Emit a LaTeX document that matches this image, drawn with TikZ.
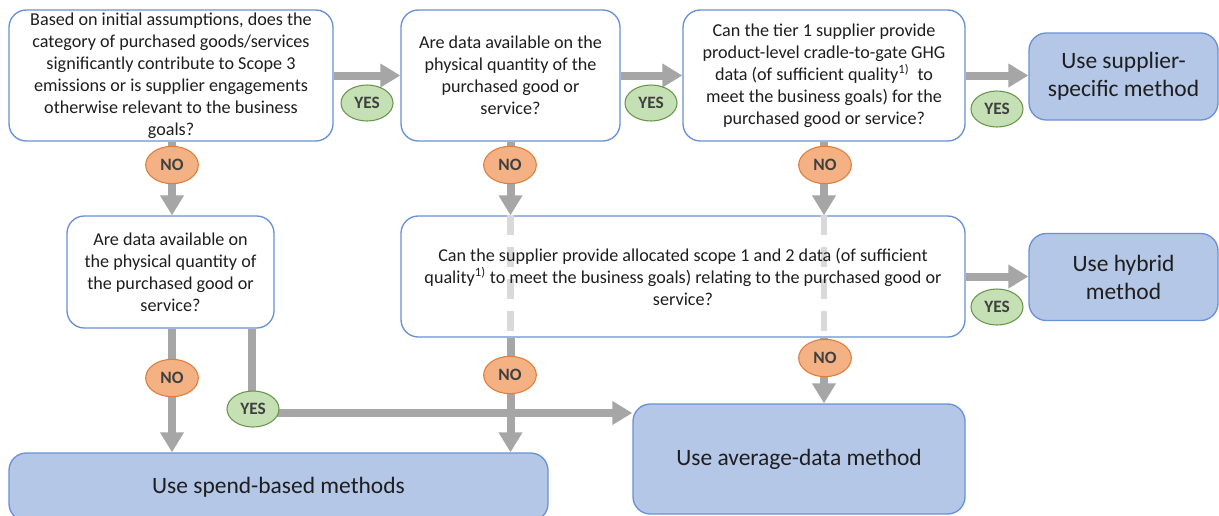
\documentclass[tikz,border=0pt]{standalone}
\usepackage{fontspec}
\setmainfont{Carlito}
\usetikzlibrary{arrows.meta,shapes.geometric,calc}
\definecolor{edgeblue}{RGB}{105,145,215}
\definecolor{resfill}{RGB}{180,199,231}
\definecolor{arrgray}{RGB}{166,166,166}
\definecolor{ghostgray}{RGB}{217,217,217}
\definecolor{nofill}{RGB}{244,177,131}
\definecolor{noedge}{RGB}{222,125,60}
\definecolor{yesfill}{RGB}{197,224,180}
\definecolor{yesedge}{RGB}{105,150,75}
\definecolor{lbltext}{RGB}{64,64,64}
\definecolor{bodytext}{RGB}{30,30,30}
\begin{document}
\begin{tikzpicture}[x=0.75pt,y=-0.75pt,
  question/.style={draw=edgeblue,line width=1pt,fill=white,rounded corners=13pt,
    align=center,inner sep=0pt,text=bodytext,font=\fontsize{13.6}{16.5}\selectfont},
  result/.style={draw=edgeblue,line width=1pt,fill=resfill,rounded corners=13pt,
    align=center,inner sep=0pt,text=bodytext,font=\fontsize{17.6}{21}\selectfont},
  flow/.style={draw=arrgray,line width=6pt,-{Triangle[length=15pt,width=17pt]}},
  ghost/.style={draw=ghostgray,line width=5pt,dash pattern=on 15pt off 9pt},
  yeslbl/.style={ellipse,draw=yesedge,fill=yesfill,line width=0.8pt,
    minimum width=39pt,minimum height=27pt,inner sep=0pt,text=lbltext,
    font=\fontsize{13}{15}\selectfont\bfseries},
  nolbl/.style={ellipse,draw=noedge,fill=nofill,line width=0.8pt,
    minimum width=39.5pt,minimum height=28pt,inner sep=0pt,text=lbltext,
    font=\fontsize{13}{15}\selectfont\bfseries}]
\useasboundingbox (0,0) rectangle (1219,515);
\clip (0,0) rectangle (1219,515);

% question boxes
\node[question,minimum width=243pt,minimum height=98.25pt] (q1) at (171,75.5)
  {Based on initial assumptions, does the\\category of purchased goods/services\\significantly contribute to Scope 3\\emissions or is supplier engagements\\otherwise relevant to the business\\goals?};
\node[question,minimum width=164.25pt,minimum height=98.25pt] (q2) at (510.5,75.5)
  {Are data available on the\\physical quantity of the\\purchased good or\\service?};
\node[question,minimum width=211.5pt,minimum height=98.25pt] (q3) at (824,75.5)
  {Can the tier 1 supplier provide\\product-level cradle-to-gate GHG\\data (of sufficient quality\textsuperscript{1)}\ \ to\\meet the business goals) for the\\purchased good or service?};
\node[question,minimum width=155.25pt,minimum height=84pt] (q4) at (170.5,272)
  {Are data available on\\the physical quantity of\\the purchased good or\\service?};
\node[question,minimum width=423pt,minimum height=90.75pt] (q5) at (683,276.5) {};

% result boxes
\node[result,minimum width=141.75pt,minimum height=65.25pt] (r1) at (1123.5,76.5)
  {Use supplier-\\specific method};
\node[result,minimum width=141.75pt,minimum height=65.25pt] (r2) at (1123.5,277)
  {Use hybrid\\method};
\node[result,minimum width=249pt,minimum height=82.5pt] (r3) at (799,459)
  {Use average-data method};
\node[result,minimum width=404.25pt,minimum height=51pt] (r4) at (278.5,487)
  {Use spend-based methods};

% connectors
\draw[flow] (q1.east) -- (q2.west);
\draw[flow] (q2.east) -- (q3.west);
\draw[flow] (q3.east) -- (q3.east -| r1.west);
\draw[flow] (q5.east) -- (q5.east -| r2.west);
\draw[flow] ($(q1.south)+(1,0)$) -- ($(q1.south |- q4.north)+(1,0)$);

\draw[flow] (q2.south) -- (q2.south |- q5.north);
\draw[ghost] (q2.south |- q5.north) -- (q2.south |- q5.south);
\draw[flow] (q2.south |- q5.south) -- (q2.south |- r4.north);

\draw[flow] (q3.south) -- (q3.south |- q5.north);
\draw[ghost] (q3.south |- q5.north) -- (q3.south |- q5.south);
\draw[flow] (q3.south |- q5.south) -- (q3.south |- r3.north);

\draw[flow] ($(q4.south)+(1.5,0)$) -- ($(q4.south |- r4.north)+(1.5,0)$);
\coordinate (q4yes) at ($(q4.south)+(81.5,0)$);
\coordinate (yesturn) at (252,413);
\draw[flow] (q4yes) -- (yesturn) -- (yesturn -| r3.west);

% text of the scope 1 and 2 question, set above the dashed pass-through lines
\node[align=center,inner sep=0pt,text=bodytext,font=\fontsize{13.6}{16.5}\selectfont] (q5txt) at (q5)
  {Can the supplier provide allocated scope 1 and 2 data (of sufficient\\quality\textsuperscript{1)} to meet the business goals) relating to the purchased good or\\service?};

% decision labels
\node[yeslbl] (y1) at (367,103) {YES};
\node[yeslbl] (y2) at (651,103) {YES};
\node[yeslbl] (y3) at (997,109) {YES};
\node[yeslbl] (y4) at (997,307) {YES};
\node[yeslbl] (y5) at (253,409) {YES};
\node[nolbl] (n1) at (172,165) {NO};
\node[nolbl] (n2) at (510,165) {NO};
\node[nolbl] (n3) at (825,165) {NO};
\node[nolbl] (n4) at (172,378) {NO};
\node[nolbl] (n5) at (510,375) {NO};
\node[nolbl] (n6) at (825,358) {NO};
\end{tikzpicture}
\end{document}
